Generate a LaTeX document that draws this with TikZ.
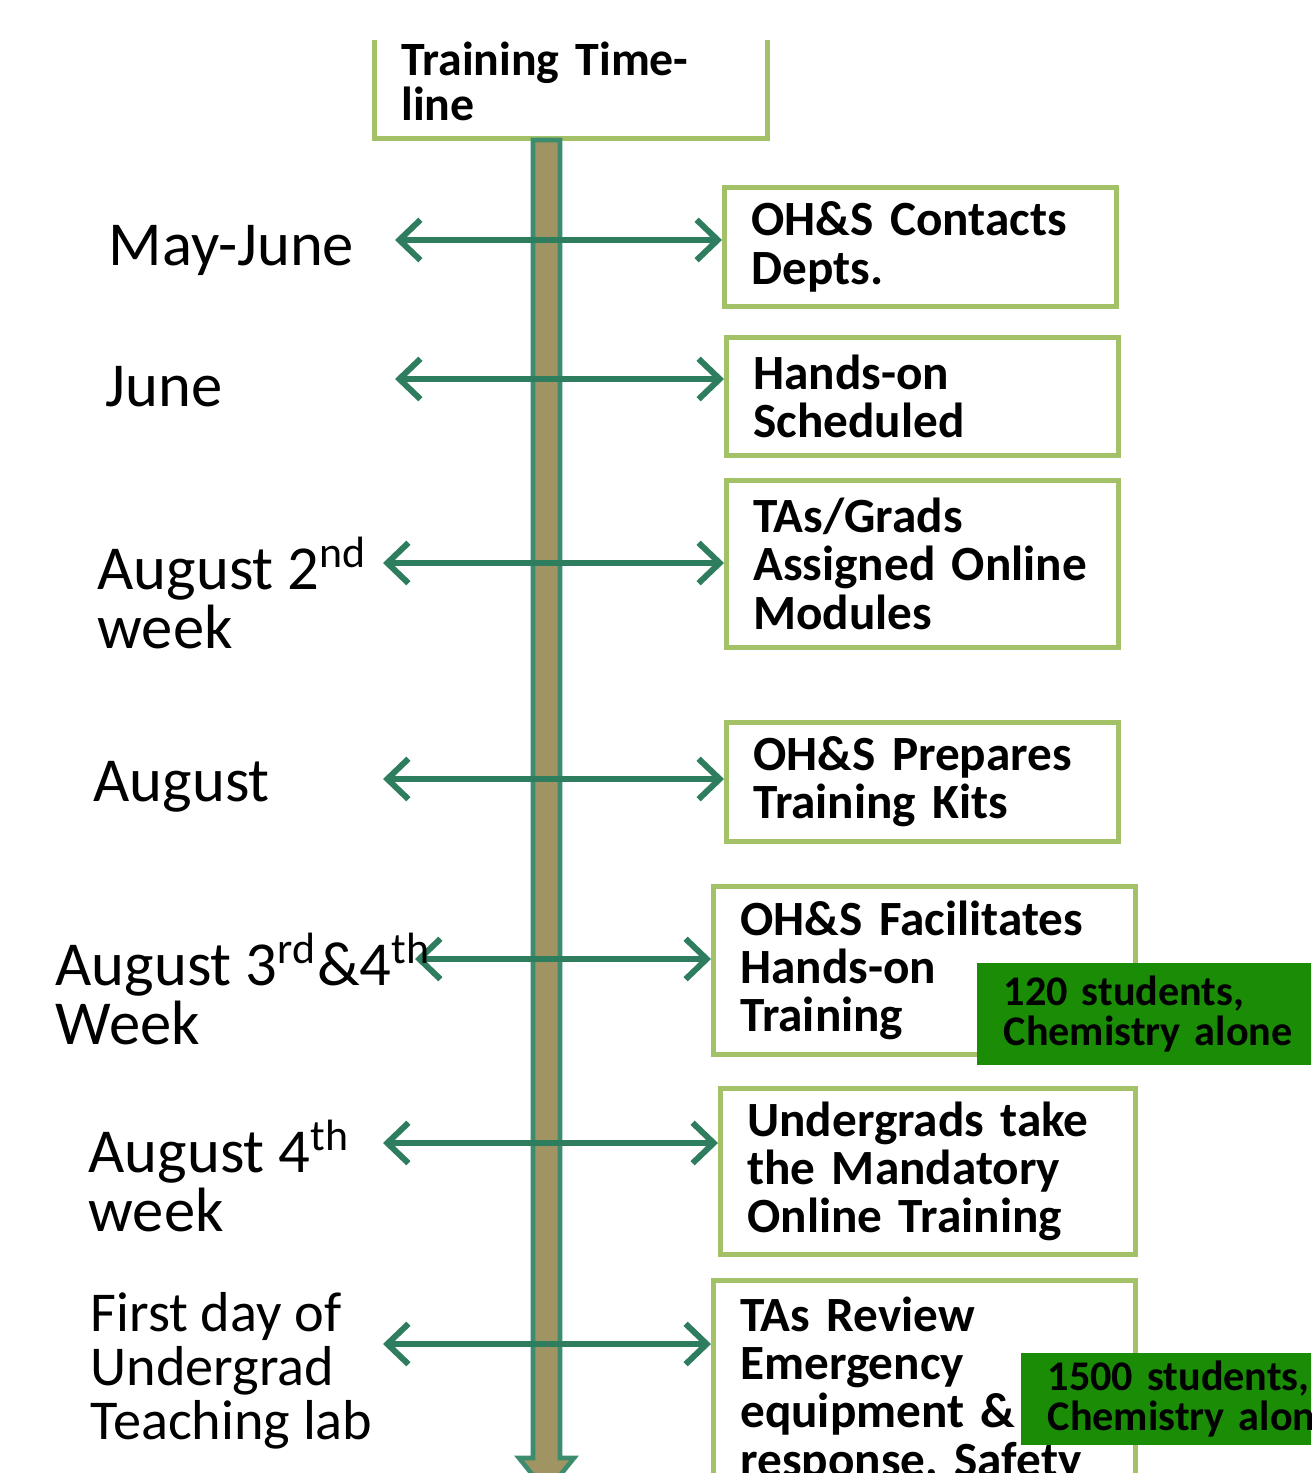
\documentclass[tikz,border=0pt]{standalone}
\usepackage{fontspec}
\setmainfont{Carlito}
\usetikzlibrary{arrows.meta}

\definecolor{barfill}{HTML}{A09462}
\definecolor{barline}{HTML}{3E8C6E}
\definecolor{arrowgreen}{HTML}{2E7D5E}
\definecolor{boxgreen}{HTML}{A3C166}
\definecolor{notegreen}{HTML}{1A8C05}

\begin{document}
\begin{tikzpicture} [
            x=0.01cm, y=-0.01cm,
            stage box/.style = {draw=boxgreen, line width=1.3pt, fill=white,
                anchor=north west, align=left, inner xsep=0.27cm, inner ysep=0pt,
                font=\fontsize{14}{13.7}\selectfont\bfseries},
            note box/.style = {fill=notegreen, anchor=north west, align=left,
                inner xsep=0.27cm, inner ysep=0pt, text width=3.6cm,
                font=\fontsize{12}{11.4}\selectfont\bfseries},
            month/.style = {anchor=west, align=left, inner sep=0pt,
                font=\fontsize{17.8}{17}\selectfont},
            time arrow/.style = {draw=arrowgreen, line width=1.7pt,
                arrows={Straight Barb[length=6pt,width=11.5pt]-Straight Barb[length=6pt,width=11.5pt]}}
        ]
        \useasboundingbox (0,0) rectangle (1311,1473);
        \clip (0,0) rectangle (1311,1473);
        % title box, its top is cut off
        \begin{scope}
            \clip (0,41) rectangle (1311,1473);
            \node[stage box, text width=3.39cm, minimum height=1.14cm,
                font=\fontsize{13.6}{12.8}\selectfont\bfseries] (title) at (372,22)
                {Training Time-\\line};
        \end{scope}
        % the time bar
        \draw[fill=barfill, draw=barline, line width=1.3pt]
            (533,140) -- (560,140) -- (560,1458) -- (574,1458) -- (546.5,1492)
            -- (519,1458) -- (533,1458) -- cycle;
        % the stages
        \node[stage box, text width=3.38cm, minimum height=1.19cm] (b1) at (722,185)
            {OH\&S Contacts\\Depts.};
        \node[stage box, text width=3.38cm, minimum height=1.18cm] (b2) at (724,335)
            {Hands-on\\Scheduled};
        \node[stage box, text width=3.38cm, minimum height=1.67cm] (b3) at (724,478)
            {TAs/Grads\\Assigned Online\\Modules};
        \node[stage box, text width=3.38cm, minimum height=1.19cm] (b4) at (724,720)
            {OH\&S Prepares\\Training Kits};
        \node[stage box, text width=3.68cm, minimum height=1.68cm] (b5) at (711,884)
            {OH\&S Facilitates\\Hands-on\\Training};
        \node[stage box, text width=3.61cm, minimum height=1.66cm] (b6) at (718,1086)
            {Undergrads take\\the Mandatory\\Online Training};
        \node[stage box, text width=3.68cm, minimum height=2.2cm] (b7) at (711,1278)
            {TAs Review\\Emergency\\equipment \&\\response, Safety};
        % notes
        \node[note box, minimum height=1.02cm] (n1) at (976,962)
            {120 students,\\Chemistry alone};
        \node[note box, minimum height=0.92cm] (n2) at (1020,1352)
            {1500 students,\\Chemistry alone};
        % arrows from the months to the stages
        \foreach \lx/\ly/\stage in {
                395/240/b1,
                395/379/b2,
                383/563/b3,
                383/779/b4,
                415/959/b5,
                383/1143/b6,
                383/1344/b7}
        {
            \coordinate (a\stage) at (\lx,\ly);
            \path[time arrow] (a\stage) -- (a\stage -| \stage.west);
        }
        % months
        \node[month] (m1) at (108,250) {May-June};
        \node[month] (m2) at (105,387) {June};
        \node[month] (m3) at (97,593) {August 2\textsuperscript{nd}\\week};
        \node[month] (m4) at (93,787) {August};
        \node[month] (m5) at (55,989) {August 3\textsuperscript{rd}\&4\textsuperscript{th}\\Week};
        \node[month] (m6) at (88,1176) {August 4\textsuperscript{th}\\week};
        \node[month, font=\fontsize{16}{15.4}\selectfont] (m7) at (90,1371)
            {First day of\\Undergrad\\Teaching lab};
    \end{tikzpicture}
\end{document}
